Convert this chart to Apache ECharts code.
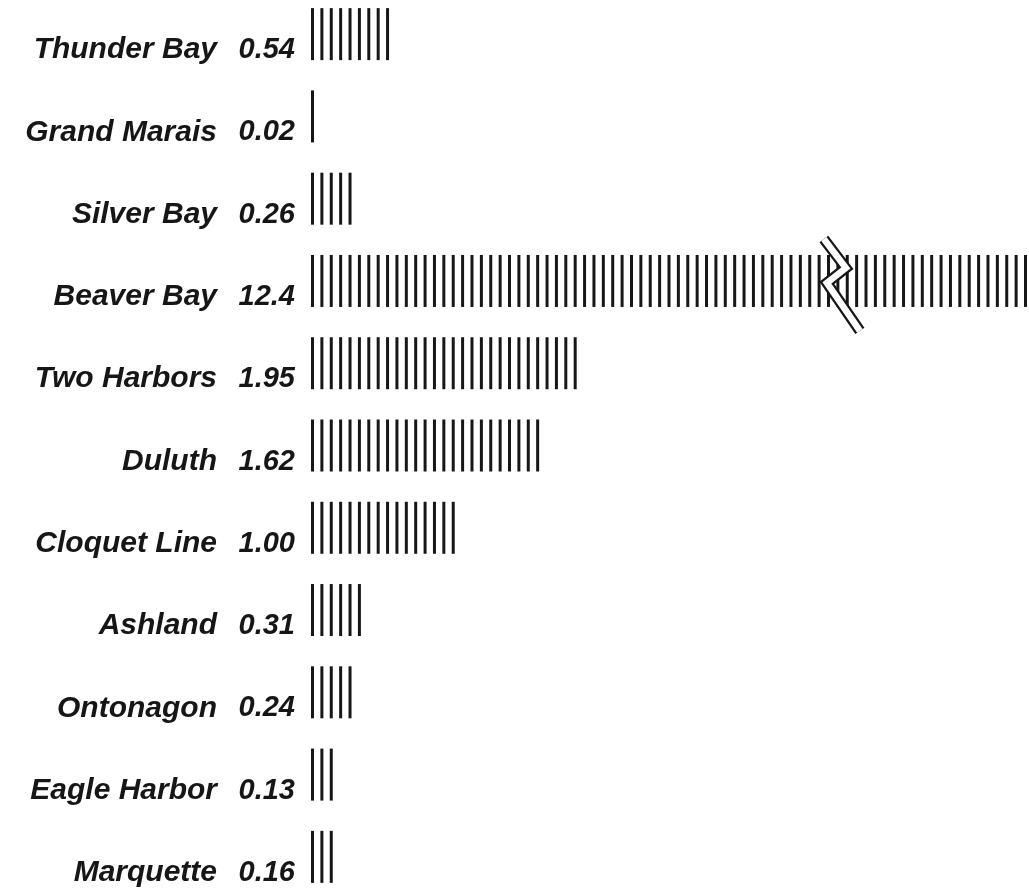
<!DOCTYPE html>
<html><head><meta charset="utf-8">
<script src="https://cdn.jsdelivr.net/npm/echarts@6/dist/echarts.min.js"></script>
<style>html,body{margin:0;background:#fff}#c{width:1029px;height:895px}</style>
</head><body><div id="c"></div>
<script>
const categories = ['Thunder Bay','Grand Marais','Silver Bay','Beaver Bay','Two Harbors','Duluth','Cloquet Line','Ashland','Ontonagon','Eagle Harbor','Marquette'];
const values = [0.54, 0.02, 0.26, 12.4, 1.95, 1.62, 1.00, 0.31, 0.24, 0.13, 0.16];
const valueLabels = ['0.54','0.02','0.26','12.4','1.95','1.62','1.00','0.31','0.24','0.13','0.16'];
const breakStart = 3.9;
const breakEnd = 11.0;
const breakMarker = [[breakStart, 'Beaver Bay']];

const chart = echarts.init(document.getElementById('c'), null, {renderer: 'canvas'});
const ink = '#161616';
const font = "'Liberation Sans', Arial, sans-serif";
chart.setOption({
  animation: false,
  backgroundColor: '#fff',
  grid: {left: 311, right: 2, top: -7, bottom: -3, containLabel: false, outerBoundsMode: 'none'},
  xAxis: {
    type: 'value', min: 0, max: 12.4,
    breaks: [{start: breakStart, end: breakEnd, gap: 0}],
    breakArea: {show: false},
    axisLine: {show: false}, axisTick: {show: false}, axisLabel: {show: false}, splitLine: {show: false}
  },
  yAxis: {
    type: 'category', data: categories, inverse: true,
    axisLine: {show: false}, axisTick: {show: false},
    axisLabel: {
      margin: 16,
      padding: [32, 0, 0, 0],
      formatter: (v, i) => '{n|' + v + '}{v|' + valueLabels[i] + '}',
      rich: {
        n: {fontFamily: font, fontSize: 30, fontWeight: 'bold', fontStyle: 'italic', color: ink},
        v: {fontFamily: font, fontSize: 29, fontWeight: 'bold', fontStyle: 'italic', color: ink, width: 78, align: 'right'}
      }
    }
  },
  series: [
    {
      type: 'pictorialBar',
      data: values,
      symbol: 'rect',
      symbolRepeat: true,
      symbolSize: [3, 52],
      symbolMargin: 3.25,
      itemStyle: {color: ink},
      z: 2
    },
    {
      type: 'custom',
      data: breakMarker,
      encode: {x: 0, y: 1},
      z: 10,
      renderItem: function (params, api) {
        const p = api.coord([api.value(0), api.value(1)]);
        const pts = [[-14, -42], [8, -13], [-11, 2], [22, 50]].map(d => [p[0] + d[0], p[1] + d[1]]);
        return {type: 'group', children: [
          {type: 'polyline', shape: {points: pts}, style: {stroke: ink, lineWidth: 11, fill: null, lineJoin: 'miter'}},
          {type: 'polyline', shape: {points: pts}, style: {stroke: '#fff', lineWidth: 6.5, fill: null, lineJoin: 'miter'}}
        ]};
      }
    }
  ]
});
</script></body></html>
